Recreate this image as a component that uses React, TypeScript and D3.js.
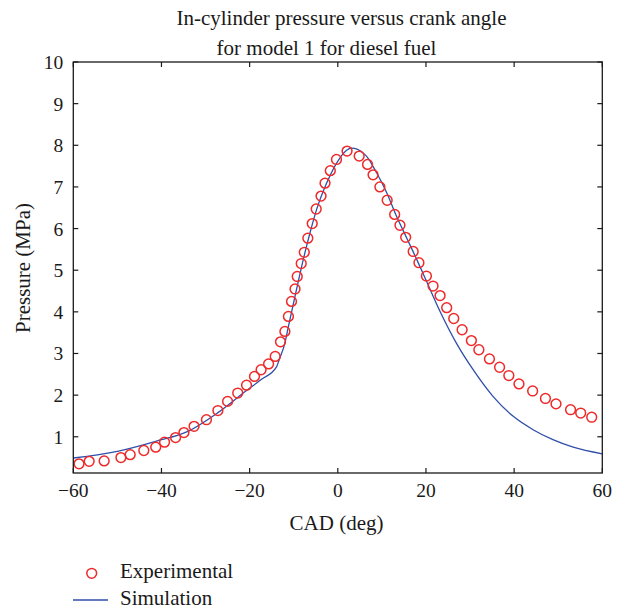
import React from "react";
import * as d3 from "d3";

const titleLines = ["In-cylinder pressure versus crank angle", "for model 1 for diesel fuel"];
const xTicks = [-60, -40, -20, 0, 20, 40, 60];
const yTicks = [1, 2, 3, 4, 5, 6, 7, 8, 9, 10];

const expCad = [-58.7, -56.4, -53.0, -49.2, -47.1, -44.0, -41.3, -39.3, -36.8, -34.9, -32.6, -29.8, -27.2, -25.0, -22.7, -20.7, -18.9, -17.4, -15.7, -14.2, -13.0, -12.0, -11.2, -10.5, -9.7, -9.2, -8.3, -7.6, -6.8, -5.8, -4.9, -3.8, -2.9, -1.7, -0.3, 2.1, 4.85, 6.75, 8.0, 9.55, 11.2, 12.9, 14.1, 15.4, 17.1, 18.4, 20.1, 21.6, 23.2, 24.7, 26.3, 28.2, 30.3, 32.0, 34.4, 36.7, 38.8, 41.1, 44.2, 47.1, 49.5, 52.8, 55.1, 57.6];
const expPressure = [0.35, 0.41, 0.42, 0.50, 0.57, 0.67, 0.75, 0.87, 0.98, 1.10, 1.25, 1.41, 1.63, 1.85, 2.05, 2.24, 2.45, 2.61, 2.75, 2.93, 3.28, 3.53, 3.89, 4.25, 4.55, 4.85, 5.16, 5.43, 5.77, 6.12, 6.47, 6.78, 7.09, 7.39, 7.66, 7.86, 7.74, 7.54, 7.29, 7.0, 6.68, 6.34, 6.08, 5.79, 5.45, 5.18, 4.86, 4.62, 4.39, 4.10, 3.84, 3.57, 3.31, 3.09, 2.87, 2.67, 2.47, 2.27, 2.10, 1.92, 1.79, 1.65, 1.57, 1.47];

const simCad = [-60, -50, -41.3, -34, -27.2, -20.7, -17.3, -13.9, -13.3, -12, -11.2, -9.2, -8, -6.3, -4.8, -2.5, 0.5, 2, 3.1, 4.5, 6.5, 8.8, 11.1, 13.3, 15.6, 17.9, 20.1, 23.2, 26.9, 30.7, 35.2, 39.8, 44.3, 48.8, 53.4, 60];
const simPressure = [0.49, 0.65, 0.89, 1.13, 1.58, 2.11, 2.38, 2.68, 2.85, 3.25, 3.65, 4.62, 5.18, 5.90, 6.46, 7.10, 7.70, 7.88, 7.93, 7.9, 7.74, 7.34, 6.86, 6.30, 5.78, 5.26, 4.74, 4.01, 3.25, 2.61, 1.97, 1.49, 1.17, 0.93, 0.75, 0.59];

const W = 622;
const H = 610;
const left = 73.3;
const right = 602.3;
const top = 62;
const bottom = 473;
const FONT = "'Liberation Serif', 'DejaVu Serif', serif";
const RED = "#ee2a2a";
const BLUE = "#2f4fa8";
const INK = "#1a1a1a";

export default function App() {
  const x = d3.scaleLinear().domain([-60, 60]).range([left, right]);
  const y = d3.scaleLinear().domain([0.13, 10]).range([bottom, top]);
  const simData = simCad.map((c, i) => [c, simPressure[i]] as [number, number]);
  const line = d3
    .line<[number, number]>()
    .x((d) => x(d[0]))
    .y((d) => y(d[1]))
    .curve(d3.curveMonotoneX);
  const tl = 5;
  const titleX = [341.5, 326.5];
  return (
    <svg width={W} height={H} style={{ position: "absolute", left: 0, top: 0, background: "#fff" }}>
      <rect x={0} y={0} width={W} height={H} fill="#fff" />
      {titleLines.map((t, i) => (
        <text key={i} x={titleX[i]} y={25 + i * 30} textAnchor="middle" fontFamily={FONT} fontSize={21} fill={INK}>
          {t}
        </text>
      ))}
      <defs>
        <clipPath id="clip">
          <rect x={left} y={top} width={right - left} height={bottom - top} />
        </clipPath>
      </defs>
      <g clipPath="url(#clip)">
        <path d={line(simData) || ""} fill="none" stroke={BLUE} strokeWidth={1.3} />
        {expCad.map((c, i) => (
          <circle key={i} cx={x(c)} cy={y(expPressure[i])} r={4.9} fill="none" stroke={RED} strokeWidth={1.5} />
        ))}
      </g>
      <rect x={left} y={top} width={right - left} height={bottom - top} fill="none" stroke={INK} strokeWidth={1.3} />
      {xTicks.map((t) => (
        <g key={"x" + t}>
          <line x1={x(t)} x2={x(t)} y1={bottom} y2={bottom - tl} stroke={INK} strokeWidth={1.2} />
          <line x1={x(t)} x2={x(t)} y1={top} y2={top + tl} stroke={INK} strokeWidth={1.2} />
          <text x={x(t)} y={497} textAnchor="middle" fontFamily={FONT} fontSize={19.5} fill={INK}>
            {t < 0 ? "\u2212" + Math.abs(t) : String(t)}
          </text>
        </g>
      ))}
      {yTicks.map((t) => (
        <g key={"y" + t}>
          <line x1={left} x2={left + tl} y1={y(t)} y2={y(t)} stroke={INK} strokeWidth={1.2} />
          <line x1={right} x2={right - tl} y1={y(t)} y2={y(t)} stroke={INK} strokeWidth={1.2} />
          <text x={left - 10} y={y(t) + 7} textAnchor="end" fontFamily={FONT} fontSize={19.5} fill={INK}>
            {t}
          </text>
        </g>
      ))}
      <text x={336.5} y={530} textAnchor="middle" fontFamily={FONT} fontSize={21} fill={INK}>
        CAD (deg)
      </text>
      <text transform={`translate(30, 268) rotate(-90)`} textAnchor="middle" fontFamily={FONT} fontSize={21} fill={INK}>
        Pressure (MPa)
      </text>
      <circle cx={91.7} cy={573.3} r={4.9} fill="none" stroke={RED} strokeWidth={1.5} />
      <text x={120} y={578} fontFamily={FONT} fontSize={21} fill={INK}>
        Experimental
      </text>
      <line x1={73} x2={108} y1={600} y2={600} stroke={BLUE} strokeWidth={1.3} />
      <text x={120} y={605} fontFamily={FONT} fontSize={21} fill={INK}>
        Simulation
      </text>
    </svg>
  );
}
